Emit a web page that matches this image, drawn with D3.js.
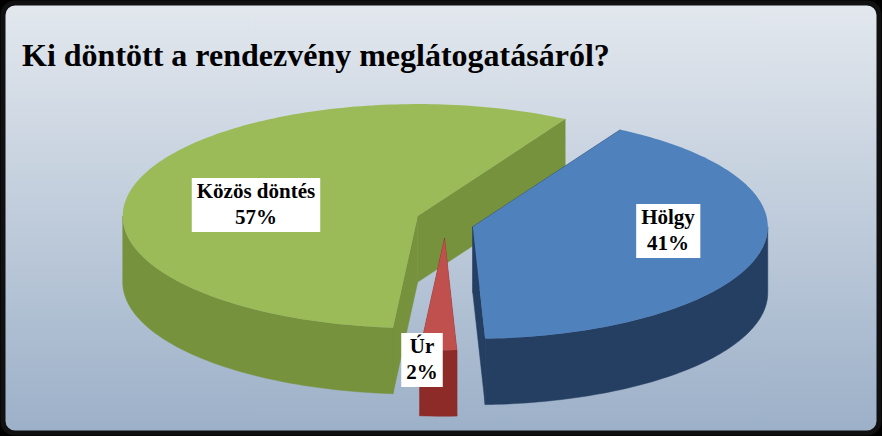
<!DOCTYPE html><html><head><meta charset="utf-8">
<script src="https://cdn.jsdelivr.net/npm/d3@7"></script>
<style>body{margin:0;background:#000}</style></head><body><svg width="882" height="436"></svg>
<script>
const categories=["Hölgy","Úr","Közös döntés"];
const values=[41,2,57];
const labels=["41%","2%","57%"];
const topColors=["#4F81BD","#C0504D","#9BBB59"];
const sideColors=["#253F63","#8C2B28","#76923C"];
const svg=d3.select("svg");
const defs=svg.append("defs");
const g=defs.append("linearGradient").attr("id","bg").attr("x1",0).attr("y1",0).attr("x2",0).attr("y2",1);
g.append("stop").attr("offset",0).attr("stop-color","#e3e8ee");
g.append("stop").attr("offset",1).attr("stop-color","#9cb0c8");
svg.append("rect").attr("x",3).attr("y",3).attr("width",876).attr("height",430).attr("rx",12).attr("fill","url(#bg)").attr("stroke","#111").attr("stroke-width",5);
svg.append("text").attr("x",22).attr("y",66).attr("font-family","Liberation Serif").attr("font-weight","bold").attr("font-size",32).attr("fill","#000").text("Ki döntött a rendezvény meglátogatásáról?");
const cx=445,cy=222,rx=295,ry=112,depth=66,explode=[22,18,22];
const start=30*Math.PI/180;
const arcs=d3.pie().sort(null).startAngle(start).endAngle(start+2*Math.PI)(values);
const P=(o,t,r=1,dz=0)=>[o[0]+rx*r*Math.sin(t),o[1]-ry*r*Math.cos(t)+dz];
const items=arcs.map((a,i)=>{const m=(a.startAngle+a.endAngle)/2;return {a,i,m,o:[cx+explode[i]*Math.sin(m)*1.3,cy-explode[i]*Math.cos(m)*0.9]};});
function arcPts(o,s,e,dz){const n=Math.max(4,Math.ceil((e-s)/0.02));return d3.range(n+1).map(k=>P(o,s+(e-s)*k/n,1,dz));}
const walls=[];
items.forEach(it=>{const {a,o,i}=it;
 [a.startAngle,a.endAngle].forEach(t=>{const p=P(o,t);walls.push({z:(p[1]+o[1])/2,i,pts:[o,p,[p[0],p[1]+depth],[o[0],o[1]+depth]]});});
 for(let k=0;k<3;k++){const lo=Math.PI/2+2*Math.PI*(k-1),hi=3*Math.PI/2+2*Math.PI*(k-1);
  const s=Math.max(a.startAngle,lo),e=Math.min(a.endAngle,hi);
  if(e>s){const top=arcPts(o,s,e,0),bot=arcPts(o,s,e,depth).reverse();walls.push({z:1e4,i,pts:top.concat(bot)});}}
});
walls.sort((p,q)=>p.z-q.z).forEach(w=>svg.append("path").attr("d","M"+w.pts.map(p=>p.join(",")).join("L")+"Z").attr("fill",sideColors[w.i]).attr("stroke",sideColors[w.i]).attr("stroke-width",0.5));
items.forEach(it=>{const pts=[it.o].concat(arcPts(it.o,it.a.startAngle,it.a.endAngle,0));
 svg.append("path").attr("d","M"+pts.map(p=>p.join(",")).join("L")+"Z").attr("fill",topColors[it.i]);});
const lab=[[668,228],[422,357],[256,202]];
items.forEach(it=>{const [x,y]=lab[it.i];
 const t=svg.append("text").attr("font-family","Liberation Serif").attr("font-weight","bold").attr("font-size",21).attr("text-anchor","middle");
 t.append("tspan").attr("x",x).attr("y",y-4).text(categories[it.i]);
 t.append("tspan").attr("x",x).attr("y",y+22).text(labels[it.i]);
 const b=t.node().getBBox();
 svg.insert("rect",()=>t.node()).attr("x",b.x-5).attr("y",b.y-1).attr("width",b.width+10).attr("height",b.height+4).attr("fill","#fff");
});
</script></body></html>
